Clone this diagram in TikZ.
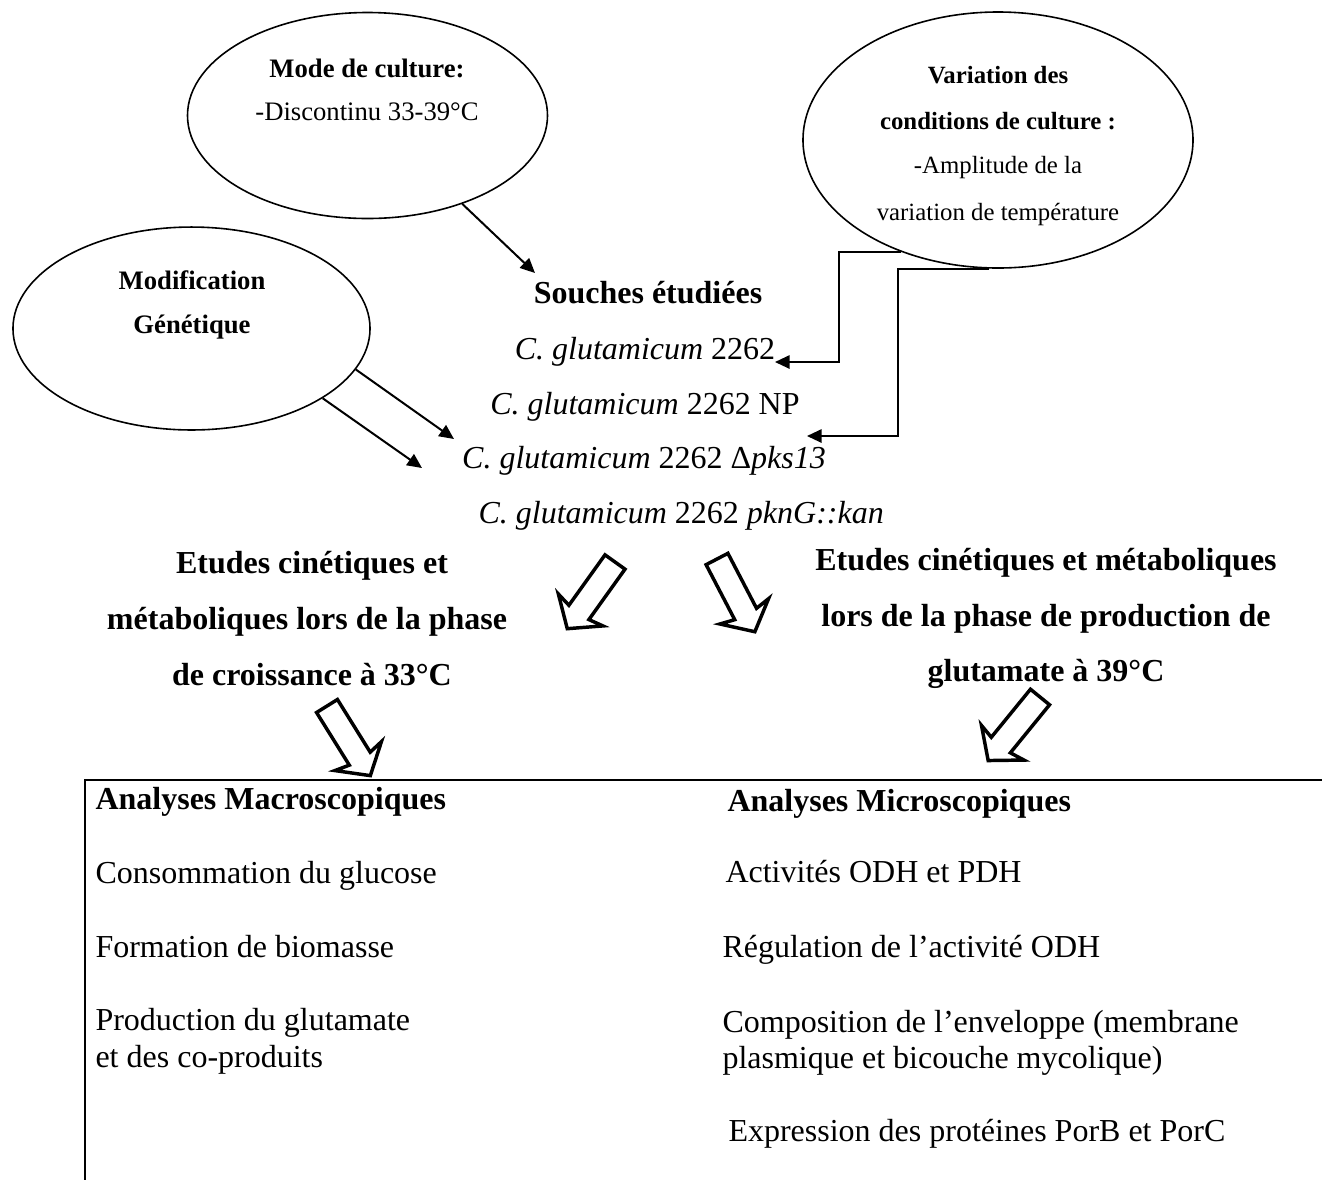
\documentclass[tikz,border=0pt]{standalone}
\usepackage{fontspec}
\setmainfont{Liberation Serif}
\usetikzlibrary{shapes.geometric,arrows.meta,calc}
\begin{document}
\begin{tikzpicture}[x=0.375pt,y=0.375pt,
  ell/.style={ellipse, draw, line width=0.6pt, inner sep=0pt},
  txt/.style={inner sep=0pt, anchor=base, font=\fontsize{12pt}{14pt}\selectfont},
  etxt/.style={inner sep=0pt, anchor=base, font=\fontsize{10pt}{12pt}\selectfont},
  evtxt/.style={inner sep=0pt, anchor=base, font=\fontsize{9.3pt}{11pt}\selectfont},
  ltxt/.style={inner sep=0pt, anchor=base west, font=\fontsize{12pt}{14pt}\selectfont},
  conn/.style={line width=0.75pt, -{Triangle[length=5.5pt,width=5pt]}},
  hollowarrow/.pic={\draw[line width=1.3pt, line join=miter]
     (0,12.3) -- (62,12.3) -- (59,27.4) -- (82,0) -- (59,-27.4) -- (62,-12.3) -- (0,-12.3) -- cycle;}
]
\useasboundingbox (0,0) rectangle (1322,-1180);

% ellipses
\node[ell, minimum width=135pt, minimum height=77.25pt] (e1) at (367.5,-115.5) {};
\node[ell, minimum width=146.25pt, minimum height=96pt] (e2) at (998,-140) {};
\node[ell, minimum width=133.9pt, minimum height=76.1pt] (e3) at (191.5,-328.5) {};

\node[etxt] (e1a) at (367,-77) {\textbf{Mode de culture:}};
\node[etxt] (e1b) at (367,-120) {-Discontinu 33-39°C};
\node[evtxt] (e2a) at (998,-83) {\textbf{Variation des}};
\node[evtxt] (e2b) at (998,-129) {\textbf{conditions de culture :}};
\node[evtxt] (e2c) at (998,-173) {-Amplitude de la};
\node[evtxt] (e2d) at (998,-220) {variation de température};
\node[etxt] (e3a) at (192,-289) {\textbf{Modification}};
\node[etxt] (e3b) at (192,-333) {\textbf{Génétique}};

% strains
\node[txt] (sou) at (648,-303) {\textbf{Souches étudiées}};
\node[txt] (s1) at (645,-359) {\textit{C. glutamicum} 2262};
\node[txt] (s2) at (645,-414) {\textit{C. glutamicum} 2262 NP};
\node[txt] (s3) at (644,-468) {\textit{C. glutamicum} 2262 Δ\textit{pks13}};
\node[ltxt] (s4) at (478,-523) {\textit{C. glutamicum} 2262 \textit{pknG::kan}};

% connector ends
\coordinate (t0) at (535,-273);
\coordinate (t1) at (775,-362);
\coordinate (t2) at (807,-436);
\coordinate (tA) at (454,-439);
\coordinate (tB) at (422,-468);

\draw[conn] (e1.-43) -- (t0);
\draw[conn] (e2.229) -| (839,-362) -- (t1);
\draw[conn] (e2.266) -| (898,-436) -- (t2);
\draw[conn] (e3.-14) -- (tA);
\draw[conn] (e3.-28) -- (tB);

% block arrows
\pic[rotate=-125.6] at (615,-562) {hollowarrow};
\pic[rotate=-62.5] at (717,-559) {hollowarrow};
\pic[rotate=-58.1] at (327,-706) {hollowarrow};
\pic[rotate=-129.2] at (1040,-697) {hollowarrow};

% headings
\node[txt] (h1a) at (312,-573) {\textbf{Etudes cinétiques et}};
\node[txt] (h1b) at (307,-629) {\textbf{métaboliques lors de la phase}};
\node[txt] (h1c) at (312,-685) {\textbf{de croissance à 33°C}};
\node[txt] (h2a) at (1046,-570) {\textbf{Etudes cinétiques et métaboliques}};
\node[txt] (h2b) at (1046,-626) {\textbf{lors de la phase de production de}};
\node[txt] (h2c) at (1046,-681) {\textbf{glutamate à 39°C}};

% box
\coordinate (bTR) at (1322,-780);
\coordinate (bTL) at (85,-780);
\coordinate (bBL) at (85,-1180);
\draw[line width=1.1pt] (bTR) -- (bTL) -- (bBL);

\node[ltxt] (m0) at (95,-809) {\textbf{Analyses Macroscopiques}};
\node[ltxt] (m1) at (95,-883) {Consommation du glucose};
\node[ltxt] (m2) at (95,-957) {Formation de biomasse};
\node[ltxt] (m3) at (95,-1030) {Production du glutamate};
\node[ltxt] (m4) at (95,-1067) {et des co-produits};

\node[ltxt] (n0) at (727,-811) {\textbf{Analyses Microscopiques}};
\node[ltxt] (n1) at (725,-882) {Activités ODH et PDH};
\node[ltxt] (n2) at (722,-957) {Régulation de l’activité ODH};
\node[ltxt] (n3) at (722,-1032) {Composition de l’enveloppe (membrane};
\node[ltxt] (n4) at (722,-1068) {plasmique et bicouche mycolique)};
\node[ltxt] (n5) at (728,-1141) {Expression des protéines PorB et PorC};
\end{tikzpicture}
\end{document}
